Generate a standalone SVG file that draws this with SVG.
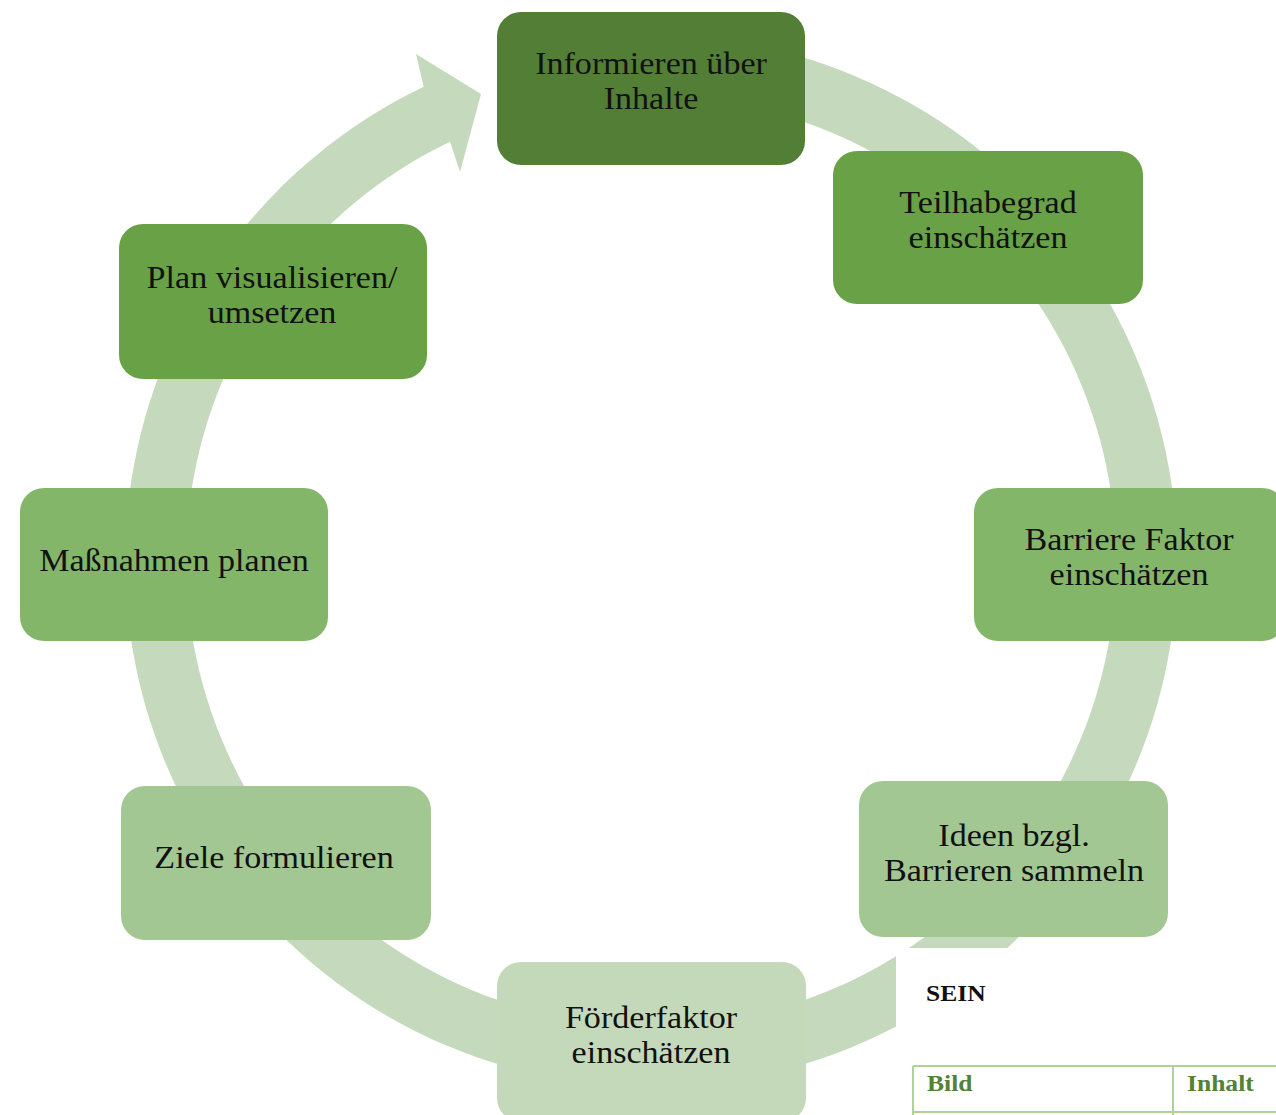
<svg xmlns="http://www.w3.org/2000/svg" width="1276" height="1115" viewBox="0 0 1276 1115">
<style>
.box{stroke:none}
.lbl{font-family:"Liberation Serif","Times New Roman",serif;font-size:32px;fill:#111;text-anchor:middle}
.doc{font-family:"Liberation Serif","Times New Roman",serif;font-size:24px;font-weight:bold}
.tbl{stroke:#afd396;stroke-width:2;fill:none}
</style>
<rect width="1276" height="1115" fill="#ffffff"/>
<g id="connectors">
<path d="M 669.4 35.3 A 526 526 0 1 1 423.7 86.7 L 416 54 L 481 94 L 460 172 L 450.1 141.7 A 465 465 0 1 0 667.2 96.3 Z" fill="#c5d9bc"/>
</g>
<g id="n1">
<rect class="box" x="497" y="12" width="308" height="153" rx="24" fill="#527f35"/>
<text class="lbl" transform="translate(651 0) scale(1.065 1)"><tspan x="0" y="74">Informieren über</tspan><tspan x="0" y="109">Inhalte</tspan></text>
</g>
<g id="n2">
<rect class="box" x="833" y="151" width="310" height="153" rx="24" fill="#69a146"/>
<text class="lbl" transform="translate(988 0) scale(1.065 1)"><tspan x="0" y="213">Teilhabegrad</tspan><tspan x="0" y="248">einschätzen</tspan></text>
</g>
<g id="n3">
<rect class="box" x="974" y="488" width="312" height="153" rx="24" fill="#84b66a"/>
<text class="lbl" transform="translate(1129 0) scale(1.065 1)"><tspan x="0" y="550">Barriere Faktor</tspan><tspan x="0" y="585">einschätzen</tspan></text>
</g>
<g id="n4">
<rect class="box" x="859" y="781" width="309" height="156" rx="24" fill="#a3c793"/>
<text class="lbl" transform="translate(1014 0) scale(1.065 1)"><tspan x="0" y="846">Ideen bzgl.</tspan><tspan x="0" y="881">Barrieren sammeln</tspan></text>
</g>
<g id="n5">
<rect class="box" x="497" y="962" width="309" height="160" rx="24" fill="#c4d9b9"/>
<text class="lbl" transform="translate(651 0) scale(1.065 1)"><tspan x="0" y="1028">Förderfaktor</tspan><tspan x="0" y="1063">einschätzen</tspan></text>
</g>
<g id="n6">
<rect class="box" x="121" y="786" width="310" height="154" rx="24" fill="#a3c793"/>
<text class="lbl" transform="translate(274 0) scale(1.065 1)"><tspan x="0" y="868">Ziele formulieren</tspan></text>
</g>
<g id="n7">
<rect class="box" x="20" y="488" width="308" height="153" rx="24" fill="#84b66a"/>
<text class="lbl" transform="translate(174 0) scale(1.065 1)"><tspan x="0" y="571">Maßnahmen planen</tspan></text>
</g>
<g id="n8">
<rect class="box" x="119" y="224" width="308" height="155" rx="24" fill="#69a146"/>
<text class="lbl" transform="translate(272 0) scale(1.065 1)"><tspan x="0" y="288">Plan visualisieren/</tspan><tspan x="0" y="323">umsetzen</tspan></text>
</g>
<g id="doc-overlay">
<rect x="896" y="948" width="380" height="167" fill="#ffffff"/>
<text class="doc" fill="#111" transform="translate(926 0) scale(1.065 1)" x="0" y="1001">SEIN</text>
<line class="tbl" x1="913" y1="1066" x2="1276" y2="1066"/>
<line class="tbl" x1="913" y1="1066" x2="913" y2="1115"/>
<line class="tbl" x1="1173" y1="1066" x2="1173" y2="1115"/>
<line class="tbl" x1="913" y1="1112" x2="1276" y2="1112"/>
<text class="doc" fill="#538135" transform="translate(927 0) scale(1.065 1)" x="0" y="1091">Bild</text>
<text class="doc" fill="#538135" transform="translate(1187 0) scale(1.065 1)" x="0" y="1091">Inhalt</text>
</g>
</svg>
